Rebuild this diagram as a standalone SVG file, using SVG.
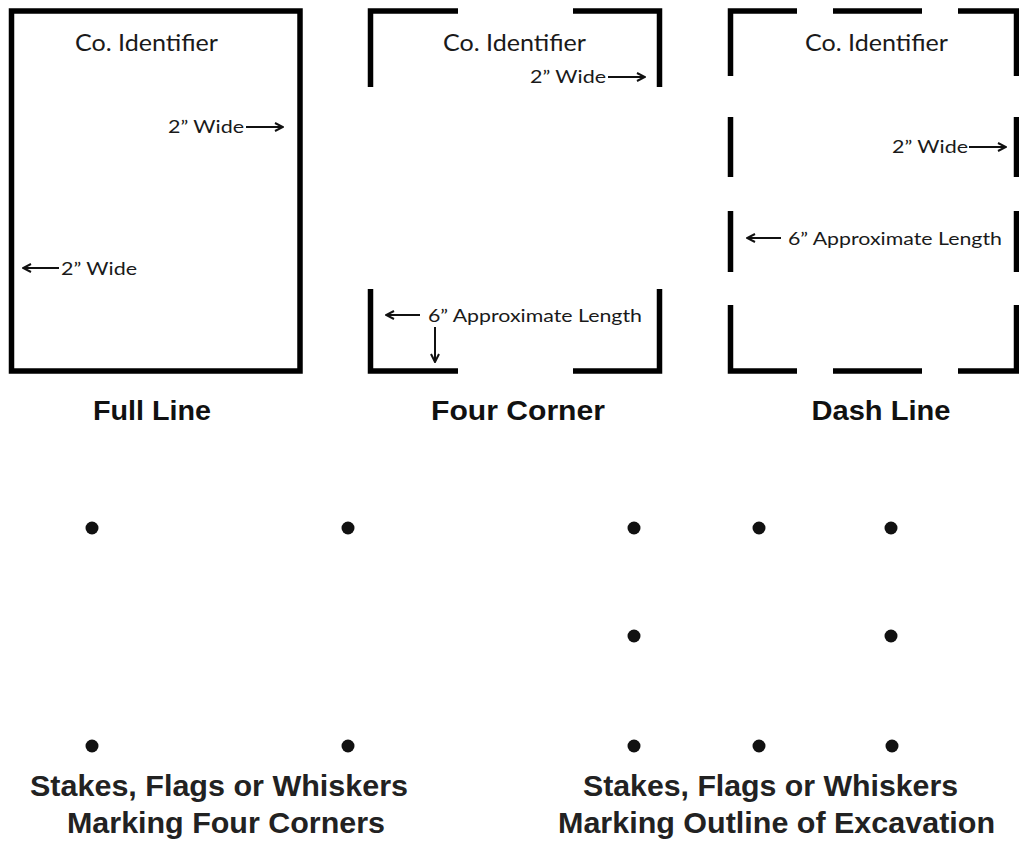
<svg xmlns="http://www.w3.org/2000/svg" width="1019" height="842" viewBox="0 0 1019 842">
<style>
.bar{fill:none;stroke:#000;stroke-width:5.5;stroke-linecap:butt;stroke-linejoin:miter}
.lbl{font-family:Lato,"Liberation Sans",sans-serif;fill:#1a1a1a}
.id{font-size:23px}
.sm{font-size:17px}
.title{font-family:"Liberation Sans",Arial,sans-serif;font-weight:bold;font-size:27px;fill:#111;text-anchor:middle}
.cap{font-family:"Liberation Sans",Arial,sans-serif;font-weight:bold;font-size:30px;fill:#222}
.arr{fill:none;stroke:#111;stroke-width:2}
.dot{fill:#111}
</style>
<defs>
<marker id="ah" viewBox="0 0 10 10" refX="9" refY="5" markerWidth="10" markerHeight="10" markerUnits="userSpaceOnUse" orient="auto">
<path d="M1,1 L9,5 L1,9" fill="none" stroke="#111" stroke-width="2"/>
</marker>
</defs>
<rect width="1019" height="842" fill="#fff"/>

<g id="full-line">
<rect class="bar" x="11.5" y="11" width="288.5" height="360"/>
<text class="lbl id" x="75" y="51" textLength="143" lengthAdjust="spacingAndGlyphs">Co. Identifier</text>
<text class="lbl sm" x="168" y="133" textLength="76" lengthAdjust="spacingAndGlyphs">2” Wide</text>
<text class="lbl sm" x="61" y="275" textLength="76" lengthAdjust="spacingAndGlyphs">2” Wide</text>
<text class="title" x="152" y="420" textLength="118" lengthAdjust="spacingAndGlyphs">Full Line</text>
</g>

<g id="four-corner">
<path class="bar" d="M370.5,87 V11 H458 M573,11 H659.5 V87 M370.5,289 V371 H458 M573,371 H659.5 V289"/>
<text class="lbl id" x="443" y="51" textLength="143" lengthAdjust="spacingAndGlyphs">Co. Identifier</text>
<text class="lbl sm" x="530" y="83" textLength="76" lengthAdjust="spacingAndGlyphs">2” Wide</text>
<text class="lbl sm" x="428" y="322" textLength="214" lengthAdjust="spacingAndGlyphs">6” Approximate Length</text>
<text class="title" x="518" y="420" textLength="174" lengthAdjust="spacingAndGlyphs">Four Corner</text>
</g>

<g id="dash-line">
<path class="bar" d="M730.5,76 V11 H797 M833,11 H922 M958,11 H1016.5 V76 M730.5,117 V177 M1016.5,117 V177 M730.5,211 V272 M1016.5,211 V272 M730.5,305 V371 H797 M833,371 H922 M958,371 H1016.5 V305"/>
<text class="lbl id" x="805" y="51" textLength="143" lengthAdjust="spacingAndGlyphs">Co. Identifier</text>
<text class="lbl sm" x="892" y="153" textLength="76" lengthAdjust="spacingAndGlyphs">2” Wide</text>
<text class="lbl sm" x="788" y="245" textLength="214" lengthAdjust="spacingAndGlyphs">6” Approximate Length</text>
<text class="title" x="881" y="420" textLength="139" lengthAdjust="spacingAndGlyphs">Dash Line</text>
</g>

<g id="connectors">
<line class="arr" x1="246" y1="127" x2="283" y2="127" marker-end="url(#ah)"/>
<line class="arr" x1="59" y1="268" x2="23" y2="268" marker-end="url(#ah)"/>
<line class="arr" x1="608" y1="77" x2="645" y2="77" marker-end="url(#ah)"/>
<line class="arr" x1="420" y1="315" x2="386" y2="315" marker-end="url(#ah)"/>
<line class="arr" x1="435" y1="327" x2="435" y2="362" marker-end="url(#ah)"/>
<line class="arr" x1="969" y1="147" x2="1006" y2="147" marker-end="url(#ah)"/>
<line class="arr" x1="781" y1="238" x2="747" y2="238" marker-end="url(#ah)"/>
</g>

<g id="four-corners-stakes">
<circle class="dot" cx="92" cy="528" r="6.5"/>
<circle class="dot" cx="348" cy="528" r="6.5"/>
<circle class="dot" cx="92" cy="746" r="6.5"/>
<circle class="dot" cx="348" cy="746" r="6.5"/>
<text class="cap" x="30" y="796" textLength="378" lengthAdjust="spacingAndGlyphs">Stakes, Flags or Whiskers</text>
<text class="cap" x="67" y="833" textLength="318" lengthAdjust="spacingAndGlyphs">Marking Four Corners</text>
</g>

<g id="outline-stakes">
<circle class="dot" cx="634" cy="528" r="6.5"/>
<circle class="dot" cx="759" cy="528" r="6.5"/>
<circle class="dot" cx="891" cy="528" r="6.5"/>
<circle class="dot" cx="634" cy="636" r="6.5"/>
<circle class="dot" cx="891" cy="636" r="6.5"/>
<circle class="dot" cx="634" cy="746" r="6.5"/>
<circle class="dot" cx="759" cy="746" r="6.5"/>
<circle class="dot" cx="892" cy="746" r="6.5"/>
<text class="cap" x="583" y="796" textLength="375" lengthAdjust="spacingAndGlyphs">Stakes, Flags or Whiskers</text>
<text class="cap" x="558" y="833" textLength="437" lengthAdjust="spacingAndGlyphs">Marking Outline of Excavation</text>
</g>
</svg>
